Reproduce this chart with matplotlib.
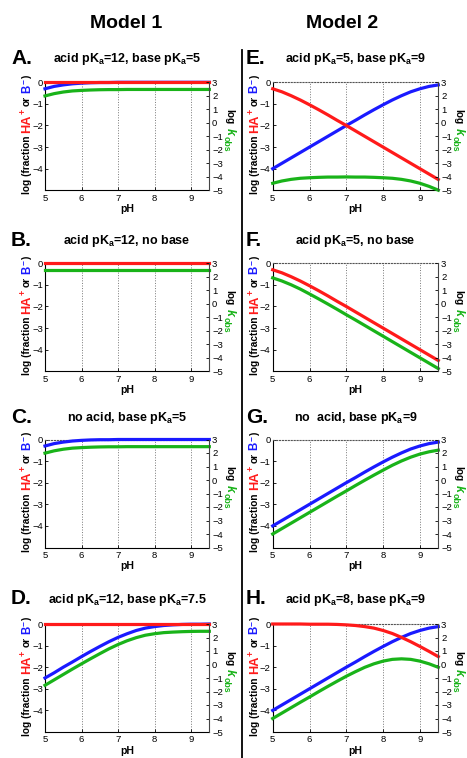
import matplotlib
matplotlib.use("Agg")
import matplotlib.pyplot as plt
from matplotlib.lines import Line2D

plt.rcParams['font.family'] = ['Liberation Sans', 'DejaVu Sans']
plt.rcParams['mathtext.default'] = 'regular'

W, H = 467, 758

ph = [5.0, 5.25, 5.5, 5.75, 6.0, 6.25, 6.5, 6.75, 7.0, 7.25,
      7.5, 7.75, 8.0, 8.25, 8.5, 8.75, 9.0, 9.25, 9.5]

# log fraction HA+ (left axis)
ha_pka12 = [0.0, 0.0, 0.0, 0.0, 0.0, 0.0, 0.0, 0.0, 0.0, 0.0,
            0.0, 0.0, 0.0, 0.0, 0.0, 0.0, 0.0, 0.0, 0.0]
ha_pka5 = [-0.30, -0.44, -0.62, -0.82, -1.04, -1.27, -1.51, -1.76, -2.00, -2.25,
           -2.50, -2.75, -3.00, -3.25, -3.50, -3.75, -4.00, -4.25, -4.50]
ha_pka8 = [0.00, 0.00, 0.00, 0.00, -0.01, -0.01, -0.01, -0.02, -0.04, -0.07,
           -0.12, -0.19, -0.30, -0.44, -0.62, -0.82, -1.04, -1.27, -1.51]

# log fraction B- (left axis)
b_pka5 = [-0.30, -0.19, -0.12, -0.07, -0.04, -0.02, -0.01, -0.01, 0.00, 0.00,
          0.00, 0.00, 0.00, 0.00, 0.00, 0.00, 0.00, 0.00, 0.00]
b_pka75 = [-2.50, -2.26, -2.00, -1.76, -1.51, -1.27, -1.04, -0.82, -0.62, -0.45,
           -0.30, -0.19, -0.12, -0.07, -0.04, -0.02, -0.01, -0.01, 0.00]
b_pka9 = [-4.00, -3.75, -3.50, -3.25, -3.00, -2.75, -2.50, -2.25, -2.00, -1.76,
          -1.51, -1.27, -1.04, -0.82, -0.62, -0.44, -0.30, -0.19, -0.12]

# log kobs (right axis)
k_a = [1.99, 2.16, 2.28, 2.36, 2.40, 2.43, 2.45, 2.46, 2.46, 2.47,
       2.47, 2.47, 2.47, 2.47, 2.47, 2.47, 2.47, 2.47, 2.47]
k_b = [2.47, 2.47, 2.47, 2.47, 2.47, 2.47, 2.47, 2.47, 2.47, 2.47,
       2.47, 2.47, 2.47, 2.47, 2.47, 2.47, 2.47, 2.47, 2.47]
k_c = [1.99, 2.16, 2.28, 2.36, 2.40, 2.43, 2.45, 2.46, 2.46, 2.47,
       2.47, 2.47, 2.47, 2.47, 2.47, 2.47, 2.47, 2.47, 2.47]
k_d = [-1.54, -1.14, -0.74, -0.34, 0.05, 0.43, 0.80, 1.16, 1.48, 1.76,
       1.99, 2.17, 2.28, 2.36, 2.40, 2.43, 2.45, 2.46, 2.46]
k_e = [-4.48, -4.31, -4.19, -4.11, -4.07, -4.04, -4.02, -4.02, -4.01, -4.02,
       -4.02, -4.04, -4.07, -4.11, -4.19, -4.31, -4.48, -4.71, -4.99]
k_f = [1.92, 1.69, 1.41, 1.09, 0.73, 0.36, -0.02, -0.41, -0.81, -1.20,
       -1.60, -2.00, -2.40, -2.80, -3.20, -3.60, -4.00, -4.40, -4.80]
k_g = [-4.00, -3.60, -3.20, -2.80, -2.40, -2.00, -1.60, -1.20, -0.81, -0.41,
       -0.02, 0.36, 0.73, 1.09, 1.41, 1.69, 1.92, 2.09, 2.21]
k_h = [-4.00, -3.60, -3.20, -2.80, -2.41, -2.01, -1.62, -1.24, -0.87, -0.53,
       -0.21, 0.05, 0.25, 0.38, 0.42, 0.38, 0.25, 0.05, -0.21]

panels = [
    # letter, title, HA+, B-, kobs, column, row
    ("A.", "acid pK$_a$=12, base pK$_a$=5", ha_pka12, b_pka5, k_a, 0, 0),
    ("B.", "acid pK$_a$=12, no base", ha_pka12, None, k_b, 0, 1),
    ("C.", "no acid, base pK$_a$=5", None, b_pka5, k_c, 0, 2),
    ("D.", "acid pK$_a$=12, base pK$_a$=7.5", ha_pka12, b_pka75, k_d, 0, 3),
    ("E.", "acid pK$_a$=5, base pK$_a$=9", ha_pka5, b_pka9, k_e, 1, 0),
    ("F.", "acid pK$_a$=5, no base", ha_pka5, None, k_f, 1, 1),
    ("G.", "no  acid, base pK$_a$=9", None, b_pka9, k_g, 1, 2),
    ("H.", "acid pK$_a$=8, base pK$_a$=9", ha_pka8, b_pka9, k_h, 1, 3),
]

RED = "#ff1a1a"
BLUE = "#1a1aff"
GREEN = "#19b319"

col_left = [45, 272.7]
col_width = [164.3, 165.6]
row_top = [82.3, 263.3, 439.5, 624.0]
ax_h = 108.0
title_y = [59, 241, 418, 600]
letter_x = [11, 246]

fig = plt.figure(figsize=(W / 100, H / 100), dpi=100)
renderer = fig.canvas.get_renderer()


def text_len(s, size, style):
    t = fig.text(0, 0, s, fontsize=size, fontweight="bold", fontstyle=style)
    w = t.get_window_extent(renderer).width
    t.remove()
    return w


# pieces: text, colour, size, style, gap after (px), shift up in glyph frame (px)
left_parts = [
    ("log (fraction", "black", 7.3, "normal", 3, 0),
    ("HA", RED, 9.2, "normal", 0.5, 0),
    ("+", RED, 6.5, "normal", 3, 4),
    ("or", "black", 7.3, "normal", 3, 0),
    ("B", BLUE, 8.3, "normal", 0.5, 0),
    ("\u2212", BLUE, 6, "normal", 1, 4),
    (")", "black", 7.3, "normal", 0, 0),
]
right_parts = [
    ("log", "black", 7.3, "normal", 3, 0),
    ("k", GREEN, 9, "italic", 1, 0),
    ("obs", GREEN, 6.3, "normal", 0, -2.5),
]
left_lens = [text_len(p[0], p[2], p[3]) for p in left_parts]
right_lens = [text_len(p[0], p[2], p[3]) for p in right_parts]


def stacked_label(x_px, y_px, parts, lens, rotation):
    # x_px, y_px: baseline start in pixels from the top-left corner
    pos = y_px
    for (s, color, size, style, gap, shift), n in zip(parts, lens):
        if rotation == 90:
            xx = x_px - shift
        else:
            xx = x_px + shift
        fig.text(xx / W, 1 - pos / H, s, rotation=rotation,
                 rotation_mode="anchor", ha="left", va="baseline",
                 color=color, fontsize=size, fontweight="bold",
                 fontstyle=style)
        if rotation == 90:
            pos -= n + gap
        else:
            pos += n + gap


for letter, title, red, blue, green, col, row in panels:
    l, w = col_left[col], col_width[col]
    t = row_top[row]
    ax = fig.add_axes([l / W, 1 - (t + ax_h) / H, w / W, ax_h / H])
    ax2 = ax.twinx()

    if blue is not None:
        ax.plot(ph, blue, color=BLUE, lw=2.3, clip_on=False, zorder=3)
    if red is not None:
        ax.plot(ph, red, color=RED, lw=2.3, clip_on=False, zorder=4)
    ax2.plot(ph, green, color=GREEN, lw=2.3, clip_on=False)

    ax.set_xlim(5, 9.5)
    ax.set_ylim(-5, 0)
    ax2.set_ylim(-5, 3)
    ax.set_xticks([5, 6, 7, 8, 9])
    ax.set_yticks([0, -1, -2, -3, -4])
    ax2.set_yticks([3, 2, 1, 0, -1, -2, -3, -4, -5])
    ax.grid(axis="x", linestyle=":", color="#777777", lw=0.7)

    ax.tick_params(direction="in", length=2.5, width=0.6, labelsize=6.8,
                   pad=2.5)
    ax.tick_params(axis="y", pad=1.5)
    ax2.tick_params(direction="in", length=2.5, width=0.6, labelsize=6.8,
                    pad=2)
    ax.spines["right"].set_visible(False)
    ax.spines["top"].set_linestyle(":")
    ax.spines["top"].set_color("#555555")
    ax.spines["top"].set_linewidth(0.8)
    for s in ("top", "left", "bottom"):
        ax2.spines[s].set_visible(False)
    ax2.spines["right"].set_color("#444444")
    ax.spines["left"].set_linewidth(0.8)
    ax.spines["bottom"].set_linewidth(0.8)
    ax2.spines["right"].set_linewidth(0.8)

    ax.set_xlabel("pH", fontsize=7.5, fontweight="bold", labelpad=1)

    # left label: log (fraction HA+ or B-), right label: log kobs
    stacked_label(l - 15, t + ax_h + 4, left_parts, left_lens, 90)
    stacked_label(l + w + 17, t + 27, right_parts, right_lens, -90)

    cx = (l + w / 2) / W
    fig.text(cx, 1 - title_y[row] / H, title, ha="center", va="center",
             fontsize=9, fontweight="bold")
    fig.text(letter_x[col] / W, 1 - (title_y[row] - 1) / H, letter,
             ha="left", va="center", fontsize=15, fontweight="bold")

fig.text(126 / W, 1 - 24 / H, "Model 1", ha="center", va="center",
         fontsize=14, fontweight="bold")
fig.text(342 / W, 1 - 24 / H, "Model 2", ha="center", va="center",
         fontsize=14, fontweight="bold")

fig.add_artist(Line2D([241.5 / W, 241.5 / W], [1 - 50 / H, 0],
                      transform=fig.transFigure, color="black", lw=1.3))

fig.savefig("out.png", dpi=100)
